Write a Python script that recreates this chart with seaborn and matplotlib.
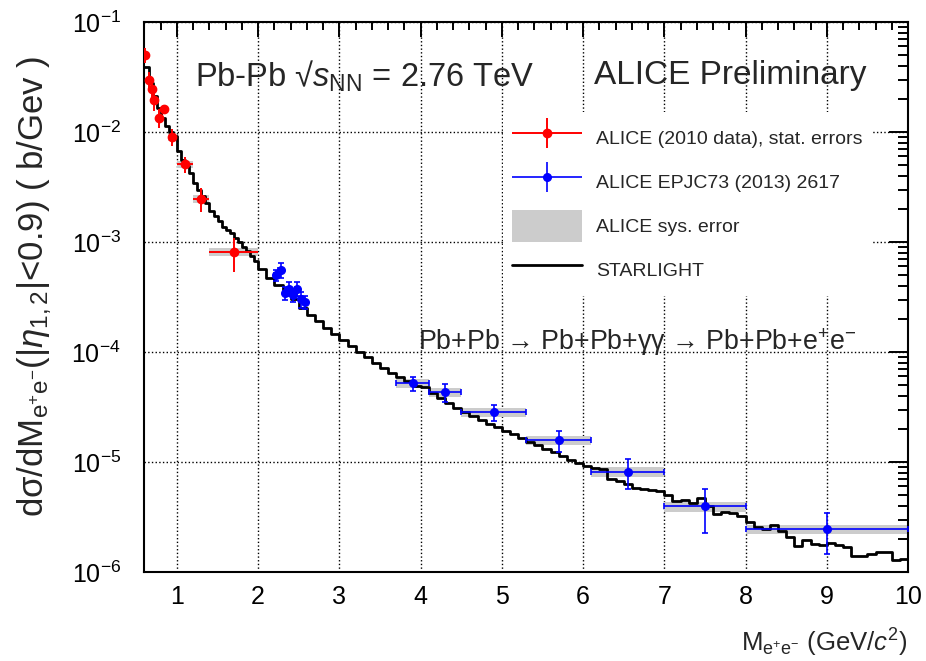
import numpy as np
import pandas as pd
import matplotlib
matplotlib.use("Agg")
import matplotlib.pyplot as plt
import seaborn as sns
from matplotlib.ticker import MultipleLocator, LogLocator, NullFormatter
from matplotlib.container import ErrorbarContainer
from matplotlib.legend_handler import HandlerErrorbar
from matplotlib.patches import Patch
from matplotlib.lines import Line2D

# ---------------- data ----------------
# ALICE 2010 data (red), stat. errors
red_x = [0.61, 0.65, 0.69, 0.72, 0.78, 0.84, 0.94, 1.1, 1.3, 1.7]
red_y = [0.050, 0.0298, 0.0248, 0.0196, 0.0135, 0.0161, 0.0090, 0.00507, 0.00248, 0.00081]
red_xerr = [0.01, 0.01, 0.01, 0.01, 0.01, 0.02, 0.05, 0.1, 0.1, 0.3]
red_yerr = [0.0077, 0.005, 0.005, 0.004, 0.0026, 0.0015, 0.0016, 0.0008, 0.0006, 0.00028]
red_sys = [0.004, 0.0025, 0.002, 0.0016, 0.0011, 0.0014, 0.0008, 0.00036, 0.00022, 0.00007]

# ALICE EPJC73 (2013) 2617 (blue)
blue_x = [2.225, 2.275, 2.325, 2.375, 2.425, 2.475, 2.525, 2.575,
          3.9, 4.3, 4.9, 5.7, 6.55, 7.5, 9.0]
blue_y = [4.98e-4, 5.56e-4, 3.41e-4, 3.77e-4, 3.27e-4, 3.77e-4, 3.01e-4, 2.85e-4,
          5.19e-5, 4.33e-5, 2.85e-5, 1.58e-5, 8.17e-6, 3.95e-6, 2.45e-6]
blue_xerr = [0.025, 0.025, 0.025, 0.025, 0.025, 0.025, 0.025, 0.025,
             0.2, 0.2, 0.4, 0.4, 0.45, 0.5, 1.0]
blue_yerr = [0.6e-4, 0.82e-4, 0.45e-4, 0.53e-4, 0.45e-4, 0.55e-4, 0.5e-4, 0.4e-4,
             0.8e-5, 0.8e-5, 0.47e-5, 0.35e-5, 2.5e-6, 1.7e-6, 1.0e-6]
blue_sys = [0.2e-4, 0.2e-4, 0.15e-4, 0.15e-4, 0.15e-4, 0.15e-4, 0.12e-4, 0.12e-4,
            0.45e-5, 0.4e-5, 0.28e-5, 0.16e-5, 0.8e-6, 0.4e-6, 0.25e-6]

# STARLIGHT histogram (bin edges and contents)
sl_edges = [round(float(v), 3) for v in np.concatenate([np.arange(0.60, 1.999, 0.05),
                                                        np.arange(2.0, 10.0001, 0.1)])]
sl_values = [
    # 0.60 - 2.00 (0.05 bins)
    0.039, 0.028, 0.0213, 0.0167, 0.0135, 0.0114, 0.0100, 0.0092,
    0.0067, 0.0056, 0.0049, 0.0042, 0.00345, 0.0030, 0.0026, 0.00227,
    0.0019, 0.00171, 0.00155, 0.00137, 0.00128, 0.00121, 0.00109, 0.00101,
    0.00091, 0.00082, 0.00074, 0.00067,
    # 2.0 - 4.0
    5.65e-4, 4.74e-4, 4.04e-4, 3.47e-4, 3.02e-4, 2.53e-4, 2.17e-4, 1.91e-4, 1.66e-4, 1.45e-4,
    1.29e-4, 1.13e-4, 1.0e-4, 9.0e-5, 8.0e-5, 7.2e-5, 6.5e-5, 5.97e-5, 5.45e-5, 4.9e-5,
    # 4.0 - 6.0
    4.8e-5, 4.27e-5, 3.82e-5, 3.47e-5, 3.11e-5, 2.86e-5, 2.64e-5, 2.41e-5, 2.2e-5, 2.06e-5,
    1.92e-5, 1.79e-5, 1.65e-5, 1.52e-5, 1.42e-5, 1.32e-5, 1.24e-5, 1.13e-5, 1.035e-5, 9.7e-6,
    # 6.0 - 8.0
    9.2e-6, 8.87e-6, 8.7e-6, 6.95e-6, 6.7e-6, 6.26e-6, 5.85e-6, 5.65e-6, 5.56e-6, 5.44e-6,
    4.98e-6, 4.42e-6, 4.51e-6, 4.21e-6, 4.74e-6, 3.98e-6, 3.39e-6, 3.51e-6, 3.41e-6, 3.23e-6,
    # 8.0 - 10.0
    2.85e-6, 2.55e-6, 2.45e-6, 2.7e-6, 2.35e-6, 2.1e-6, 1.72e-6, 1.97e-6, 1.8e-6, 1.76e-6,
    1.82e-6, 1.76e-6, 1.70e-6, 1.40e-6, 1.40e-6, 1.46e-6, 1.53e-6, 1.51e-6, 1.28e-6, 1.32e-6,
]
sl_df = pd.DataFrame({
    "mass": [0.5 * (a + b) for a, b in zip(sl_edges[:-1], sl_edges[1:])],
    "xsec": sl_values,
})

# ---------------- style ----------------
sns.set_theme(style="white")
plt.rcParams["font.family"] = ["Liberation Sans", "DejaVu Sans"]
plt.rcParams["mathtext.fontset"] = "custom"
plt.rcParams["mathtext.rm"] = "Liberation Sans"
plt.rcParams["mathtext.it"] = "Liberation Sans:italic"
plt.rcParams["mathtext.bf"] = "Liberation Sans:bold"
plt.rcParams["axes.unicode_minus"] = True

fig = plt.figure(figsize=(9.26, 6.61), dpi=100)
ax = fig.add_axes([0.156, 0.1346, 0.8246, 0.8321])

SYS_COLOR = "#cccccc"

# STARLIGHT histogram via seaborn
sns.histplot(data=sl_df, x="mass", weights="xsec", bins=sl_edges, element="step",
             fill=False, color="black", linewidth=2.0, ax=ax, zorder=3)
ax.set_yscale("log")

# systematic boxes
ax.bar(red_x, 2 * np.array(red_sys), bottom=np.array(red_y) - np.array(red_sys),
       width=2 * np.array(red_xerr), color=SYS_COLOR, linewidth=0, zorder=2)
ax.bar(blue_x, 2 * np.array(blue_sys), bottom=np.array(blue_y) - np.array(blue_sys),
       width=2 * np.array(blue_xerr), color=SYS_COLOR, linewidth=0, zorder=2)

# data points
red_c = ax.errorbar(red_x, red_y, xerr=red_xerr, yerr=red_yerr, fmt="o", color="red",
                    ms=6, elinewidth=1.4, capsize=0, zorder=5)
blue_c = ax.errorbar(blue_x, blue_y, xerr=blue_xerr, yerr=blue_yerr, fmt="o", color="blue",
                     ms=5.5, elinewidth=1.2, capsize=2.5, capthick=1.2, zorder=5)
# legend proxy for the blue series (no caps, like the reference legend)
blue_proxy = ax.errorbar([], [], xerr=[], yerr=[], fmt="o", color="blue",
                         ms=5.5, elinewidth=1.2, capsize=0)

# axes
ax.set_xlim(0.6, 10)
ax.set_ylim(1e-6, 1e-1)
ax.xaxis.set_major_locator(MultipleLocator(1))
ax.xaxis.set_minor_locator(MultipleLocator(0.2))
ax.yaxis.set_major_locator(LogLocator(base=10, numticks=10))
ax.yaxis.set_minor_locator(LogLocator(base=10, subs=np.arange(2, 10), numticks=20))
ax.yaxis.set_minor_formatter(NullFormatter())

ax.tick_params(axis="both", which="both", direction="in", top=True, right=True,
               colors="black", width=1.4, labelsize=18)
ax.tick_params(axis="x", which="major", length=11, pad=9)
ax.tick_params(axis="x", which="minor", length=5.5)
ax.tick_params(axis="y", which="major", length=14, pad=17)
ax.tick_params(axis="y", which="minor", length=7)
for s in ax.spines.values():
    s.set_linewidth(1.5)
    s.set_color("black")

ax.grid(True, which="major", linestyle=":", color="black", linewidth=1.0)
ax.set_axisbelow(True)

ax.set_xlabel(r"M$_{\mathrm{e^{+}e^{-}}}$ (GeV/$c^{2}$)", fontsize=18.5, loc="right", labelpad=13)
ax.set_ylabel(r"dσ/dM$_{\mathrm{e^{+}e^{-}}}$(|$\eta_{1,2}$|<0.9) ( b/Gev )", fontsize=25)
ax.yaxis.set_label_coords(-0.118, 0.52)

# texts
ax.text(0.066, 0.902, r"Pb-Pb √$s_{\mathrm{NN}}$ = 2.76 TeV", transform=ax.transAxes,
        fontsize=23.5, ha="left", va="center")
ax.text(0.589, 0.902, "ALICE Preliminary", transform=ax.transAxes,
        fontsize=24, ha="left", va="center")
ax.text(0.358, 0.418, r"Pb+Pb → Pb+Pb+γγ → Pb+Pb+e$^{+}$e$^{-}$", transform=ax.transAxes,
        fontsize=19.3, ha="left", va="center")

# legend
handles = [red_c, blue_proxy, Patch(facecolor=SYS_COLOR, edgecolor="none"),
           Line2D([], [], color="black", linewidth=2.0)]
labels = ["ALICE (2010 data), stat. errors", "ALICE EPJC73 (2013) 2617",
          "ALICE sys. error", "STARLIGHT"]
leg = ax.legend(handles, labels, loc="upper left", bbox_to_anchor=(0.469, 0.836),
                fontsize=14, frameon=True, facecolor="white", edgecolor="none",
                framealpha=1.0, fancybox=False, handlelength=3.6, handleheight=2.15,
                handletextpad=0.7, labelspacing=0.62, borderpad=0.5, numpoints=1,
                borderaxespad=0.0,
                handler_map={ErrorbarContainer: HandlerErrorbar(xerr_size=1.8, yerr_size=0.75)})

fig.savefig("out.png", dpi=100)
